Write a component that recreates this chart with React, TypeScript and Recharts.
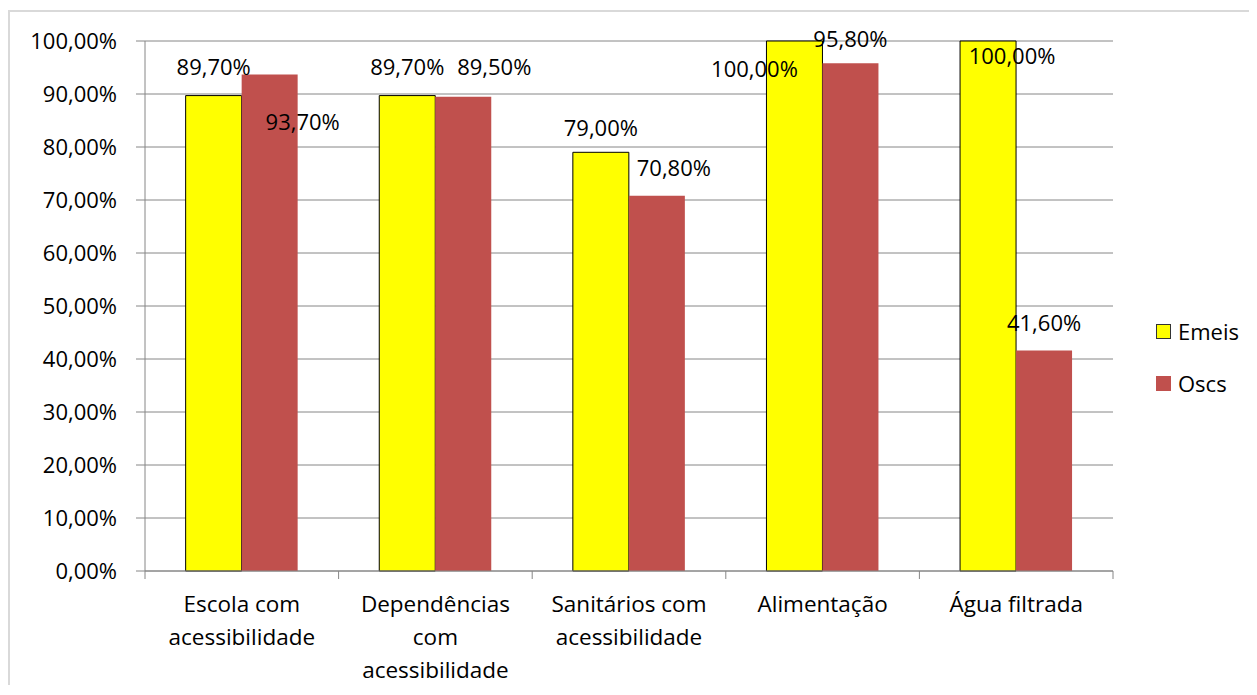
import { BarChart, Bar, XAxis, YAxis, CartesianGrid, LabelList } from 'recharts';

const categories = [
    'Escola com acessibilidade',
    'Dependências com acessibilidade',
    'Sanitários com acessibilidade',
    'Alimentação',
    'Água filtrada',
];
const emeis = [89.7, 89.7, 79.0, 100.0, 100.0];
const oscs = [93.7, 89.5, 70.8, 95.8, 41.6];
const yTicks = [0, 10, 20, 30, 40, 50, 60, 70, 80, 90, 100];
const seriesNames = ['Emeis', 'Oscs'];

// label nudges (dx, dy from bar top centre) as placed in the original
const emeisLabelPos = [[0, -30], [0, -30], [0, -25], [-40, 27], [24, 14]];
const oscsLabelPos = [[33, 47], [31, -31], [17, -29], [0, -25], [0, -29]];

const data = categories.map((name, i) => ({ name, Emeis: emeis[i], Oscs: oscs[i] }));

const FONT = '"Open Sans", sans-serif';
const GRID = '#868686';
const COLORS: Record<string, string> = { Emeis: '#ffff00', Oscs: '#c0504d' };

const fmt = (v: number) => v.toFixed(2).replace('.', ',') + '%';

const wrap = (text: string, max: number) => {
    const lines: string[] = [];
    let cur = '';
    text.split(' ').forEach((w) => {
        const next = cur ? cur + ' ' + w : w;
        if (next.length > max && cur) {
            lines.push(cur);
            cur = w;
        } else {
            cur = next;
        }
    });
    if (cur) lines.push(cur);
    return lines;
};

const CategoryTick = (props: any) => {
    const { x, y, payload, index, visibleTicksCount } = props;
    const half = payload.offset ?? 96.8;
    const lines = wrap(payload.value, 14);
    return (
        <g>
            <line x1={x - half} x2={x - half} y1={y} y2={y + 8} stroke={GRID} />
            {index === visibleTicksCount - 1 && (
                <line x1={x + half} x2={x + half} y1={y} y2={y + 8} stroke={GRID} />
            )}
            <text x={x} y={y} textAnchor="middle" fontSize={22.5} fontFamily={FONT} fill="#000">
                {lines.map((l, i) => (
                    <tspan key={i} x={x} dy={i === 0 ? 41 : 33}>
                        {l}
                    </tspan>
                ))}
            </text>
        </g>
    );
};

const makeLabel = (pos: number[][]) => (props: any) => {
    const { x, y, width, value, index } = props;
    const [dx, dy] = pos[index];
    return (
        <text
            x={x + width / 2 + dx}
            y={y + dy}
            textAnchor="middle"
            dominantBaseline="central"
            fontSize={22}
            fontFamily={FONT}
            fill="#000"
        >
            {fmt(value)}
        </text>
    );
};

const App = () => {
    return (
        <div style={{ position: 'relative', width: 1249, height: 677 }}>
            <div
                style={{
                    position: 'absolute',
                    left: 0,
                    top: 2,
                    right: 0,
                    bottom: 0,
                    borderTop: '2px solid #d9d9d9',
                    borderLeft: '2px solid #d9d9d9',
                }}
            />
            <BarChart
                width={1249}
                height={677}
                data={data}
                margin={{ top: 33, right: 144, bottom: 0, left: 0 }}
                barCategoryGap="21%"
                barGap={0}
                style={{ position: 'absolute', left: 0, top: 0 }}
            >
                <CartesianGrid vertical={false} stroke={GRID} />
                <XAxis
                    dataKey="name"
                    height={114}
                    tickLine={false}
                    tickSize={0}
                    tickMargin={0}
                    axisLine={{ stroke: GRID }}
                    tick={<CategoryTick />}
                    interval={0}
                />
                <YAxis
                    width={137}
                    domain={[0, 100]}
                    ticks={yTicks}
                    tickFormatter={fmt}
                    tickSize={9}
                    tickMargin={19}
                    axisLine={{ stroke: GRID }}
                    tickLine={{ stroke: GRID }}
                    tick={{ fill: '#000', fontSize: 22, fontFamily: FONT }}
                    interval={0}
                />
                <Bar dataKey="Emeis" fill={COLORS.Emeis} stroke="#000" strokeWidth={1} isAnimationActive={false}>
                    <LabelList dataKey="Emeis" content={makeLabel(emeisLabelPos)} />
                </Bar>
                <Bar dataKey="Oscs" fill={COLORS.Oscs} isAnimationActive={false}>
                    <LabelList dataKey="Oscs" content={makeLabel(oscsLabelPos)} />
                </Bar>
            </BarChart>
            <div
                style={{
                    position: 'absolute',
                    left: 1148,
                    top: 297,
                    fontFamily: FONT,
                    fontSize: 22,
                }}
            >
                {seriesNames.map((n) => (
                    <div key={n} style={{ display: 'flex', alignItems: 'center', height: 52 }}>
                        <span
                            style={{
                                display: 'inline-block',
                                width: 15,
                                height: 15,
                                background: COLORS[n],
                                border: n === 'Emeis' ? '1px solid #333' : 'none',
                                boxSizing: 'border-box',
                                marginRight: 7,
                            }}
                        />
                        <span>{n}</span>
                    </div>
                ))}
            </div>
        </div>
    );
};

export default App;
